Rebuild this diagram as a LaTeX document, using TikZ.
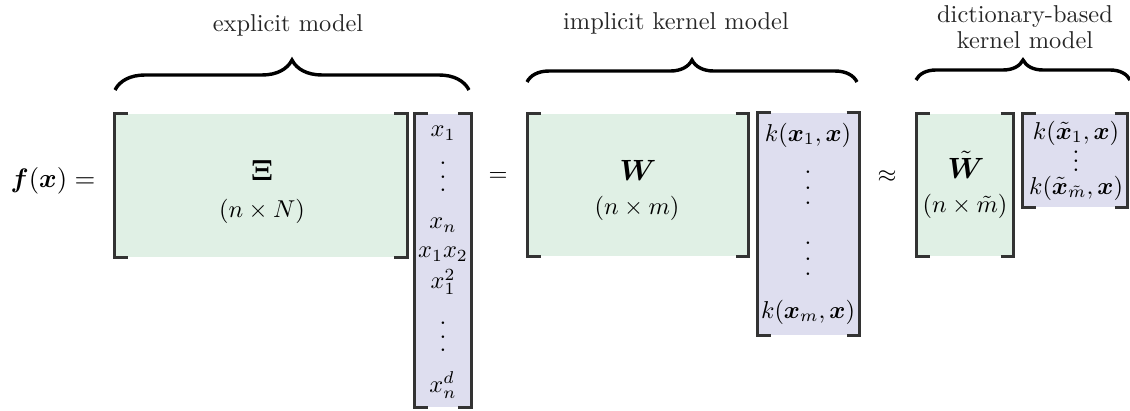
\documentclass[tikz,border=0pt]{standalone}
\usepackage{amsmath,bm}
\usetikzlibrary{fit,decorations.pathreplacing}
\definecolor{gfill}{RGB}{224,240,229}
\definecolor{pfill}{RGB}{222,222,239}
\definecolor{brk}{RGB}{51,51,51}
\newcommand\myvdots[1]{\vbox{\baselineskip#1\lineskiplimit0pt\hbox{.}\hbox{.}\hbox{.}}}
\newcommand\mybrackets[1]{%
  \draw[brkline] (#1.north west) ++(13,0) -- (#1.north west) -- (#1.south west) -- ++(13,0);
  \draw[brkline] (#1.north east) ++(-13,0) -- (#1.north east) -- (#1.south east) -- ++(-13,0);}
\tikzset{
  gbox/.style={inner sep=0pt, fill=gfill},
  pbox/.style={inner sep=0pt, fill=pfill},
  brkline/.style={draw=brk, line width=0.95pt, line join=miter},
  lbl/.style={text=black!85, inner sep=0pt, align=center},
  ent/.style={inner sep=0pt},
  big/.style={inner sep=0pt, font=\large},
  mybrace/.style={decorate, line width=1.4pt, decoration={brace, amplitude=#1}},
}
\begin{document}
\begin{tikzpicture}[x=0.41pt, y=-0.41pt]
\useasboundingbox (0,0) rectangle (1130,411);
% boxes
\node[gbox, fit={(115,114) (407,257)}] (Xi) {};
\node[pbox, fit={(415,114) (471,407)}] (v1) {};
\node[gbox, fit={(528,114) (748,256)}] (W) {};
\node[pbox, fit={(758,113) (859,335)}] (kv) {};
\node[gbox, fit={(917,114) (1013,256)}] (Wt) {};
\node[pbox, fit={(1023,114) (1127,207)}] (kt) {};
\mybrackets{Xi}
\mybrackets{v1}
\mybrackets{W}
\mybrackets{kv}
\mybrackets{Wt}
\mybrackets{kt}
% left side and operators
\node[ent, font=\fontsize{11}{13}\selectfont] (fx) at (53,181) {$\bm{f}(\bm{x}) =$};
\node[ent] (eq) at (498,177) {$=$};
\node[ent] (ap) at (887,177) {$\approx$};
% matrix labels
\node[big] (XiL) at (262,170) {$\bm{\Xi}$};
\node[ent] (XiD) at (262,211) {$(n\times N)$};
\node[big] (WL) at (638,170) {$\bm{W}$};
\node[ent] (WD) at (637,208) {$(n\times m)$};
\node[big] (WtL) at (966,165) {$\tilde{\bm{W}}$};
\node[ent] (WtD) at (965,206) {$(n\times \tilde{m})$};
% vector 1 entries
\node[ent] (a1) at (443,133) {$x_1$};
\node[ent] (a2) at (443,177) {\myvdots{5.5pt}};
\node[ent] (a3) at (443,225) {$x_n$};
\node[ent] (a4) at (443,254) {$x_1x_2$};
\node[ent] (a5) at (443,282) {$x_1^2$};
\node[ent] (a6) at (443,337) {\myvdots{5.5pt}};
\node[ent] (a7) at (443,385) {$x_n^d$};
% kernel vector entries
\node[ent] (b1) at (808,135) {$k(\bm{x}_1,\bm{x})$};
\node[ent] (b2) at (808,188) {\myvdots{6.4pt}};
\node[ent] (b3) at (808,259) {\myvdots{6.4pt}};
\node[ent] (b4) at (808,312) {$k(\bm{x}_m,\bm{x})$};
% dictionary vector entries
\node[ent] (c1) at (1076,133) {$k(\tilde{\bm{x}}_1,\bm{x})$};
\node[ent] (c2) at (1076,161) {\myvdots{3.6pt}};
\node[ent] (c3) at (1076,188) {$k(\tilde{\bm{x}}_{\tilde{m}},\bm{x})$};
% braces
\draw[mybrace=12.3pt] (115,90) -- (469,90);
\draw[mybrace=9pt] (527,82) -- (857,82);
\draw[mybrace=8.2pt] (916,80) -- (1130,80);
\node[lbl] (t1) at (288,25) {explicit model};
\node[lbl] (t2) at (676,23) {implicit kernel model};
\node[lbl] (t3) at (1025,27) {dictionary-based\\[-1.5pt]kernel model};
\end{tikzpicture}
\end{document}
